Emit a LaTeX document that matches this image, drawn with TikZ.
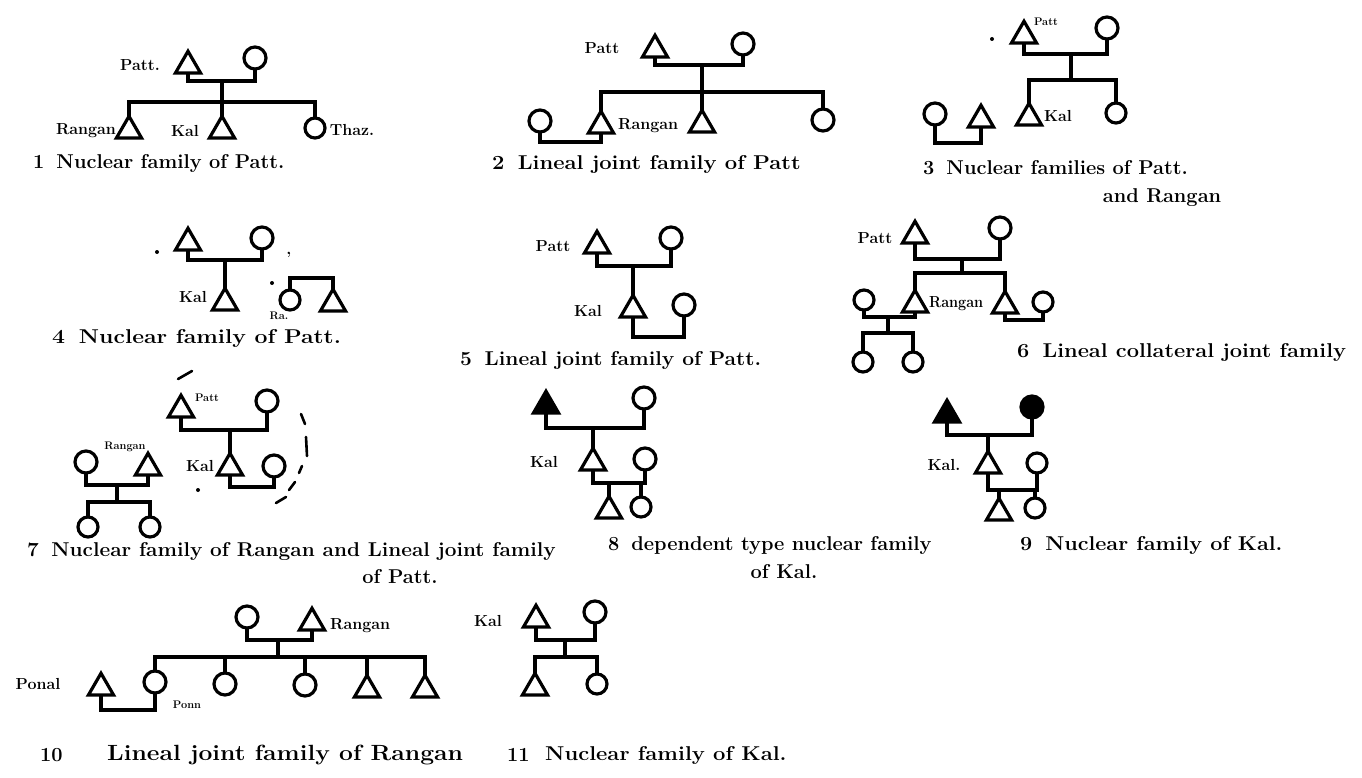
\documentclass[tikz,border=0pt]{standalone}
\usepackage{graphicx}
\usetikzlibrary{shapes.geometric}
\newcommand\hsx[2]{\scalebox{#1}[1]{#2}}
\begin{document}
\begin{tikzpicture}[x=1pt,y=-1pt,
  ln/.style={line width=3.4pt},
  tri/.style={draw, line width=3.2pt, regular polygon, regular polygon sides=3, minimum size=29pt, inner sep=0pt, outer sep=0pt, anchor=south},
  ftri/.style={tri, fill=black},
  circ/.style={draw, circle, line width=3.2pt, minimum size=22pt, inner sep=0pt, outer sep=0pt},
  scirc/.style={circ, minimum size=20pt},
  fcirc/.style={circ, fill=black},
  lab/.style={font=\fontsize{16}{18}\selectfont\bfseries, inner sep=0pt},
  slab/.style={font=\fontsize{11}{13}\selectfont\bfseries, inner sep=0pt},
  captxt/.style={font=\fontsize{20}{24}\selectfont\bfseries, inner sep=0pt, anchor=west},
  ccap/.style={font=\fontsize{20}{24}\selectfont\bfseries, inner sep=0pt},
  dsh/.style={line width=2.6pt, line cap=round}
]
\useasboundingbox (0,0) rectangle (1362,778);
\fill[white] (0,0) rectangle (1362,778);

% ---------- 1 ----------
\node[tri] (t1) at (188,73) {};
\node[circ] (c1) at (255,58) {};
\node[lab] (l1p) at (140,65) {Patt.};
\coordinate (m1) at (222,81);
\coordinate (s1) at (222,102);
\node[tri] (t1a) at (129,138) {};
\node[tri] (t1b) at (222,138) {};
\node[scirc] (c1c) at (315,128) {};
\node[lab] (l1r) at (86,131) {Rangan};
\node[lab] (l1k) at (185,131) {Kal};
\node[lab] (l1t) at (352,130) {Thaz.};
\draw[ln] (t1.south) |- (m1) -| (c1.south);
\draw[ln] (m1) -- (t1b.north);
\draw[ln] (t1a.north) |- (s1) -| (c1c.north);
\node[captxt] (cap1) at (33,164) {1\hspace{0.6em}Nuclear family of Patt.};

% ---------- 2 ----------
\node[tri] (t2) at (655,57) {};
\node[circ] (c2) at (743,44) {};
\node[lab] (l2p) at (602,48) {Patt};
\coordinate (m2) at (702,65);
\coordinate (s2) at (702,92);
\node[tri] (t2a) at (601,133) {};
\node[tri] (t2b) at (702,132) {};
\node[circ] (c2c) at (823,120) {};
\node[circ] (c2w) at (540,121) {};
\coordinate (m2w) at (570,142);
\node[lab, anchor=west] (l2r) at (618,126) {Rangan};
\draw[ln] (t2.south) |- (m2) -| (c2.south);
\draw[ln] (m2) -- (t2b.north);
\draw[ln] (t2a.north) |- (s2) -| (c2c.north);
\draw[ln] (c2w.south) |- (m2w) -| (t2a.south);
\node[captxt] (cap2) at (492,165) {\hsx{1.1}{2\hspace{0.6em}Lineal joint family of Patt}};

% ---------- 3 ----------
\node[tri] (t3) at (1024,43) {};
\node[circ] (c3) at (1107,28) {};
\node[slab] (l3p) at (1046,22) {Patt};
\fill (992,39) circle (2pt);
\coordinate (m3) at (1071,54);
\coordinate (s3) at (1071,80);
\node[tri] (t3a) at (1029,125) {};
\node[scirc] (c3a) at (1116,113) {};
\node[lab] (l3k) at (1058,116) {Kal};
\node[circ] (c3w) at (935,114) {};
\node[tri] (t3w) at (981,127) {};
\coordinate (m3w) at (958,143);
\draw[ln] (t3.south) |- (m3) -| (c3.south);
\draw[ln] (m3) -- (s3);
\draw[ln] (t3a.north) |- (s3) -| (c3a.north);
\draw[ln] (c3w.south) |- (m3w) -| (t3w.south);
\node[captxt] (cap3) at (923,168) {3\hspace{0.6em}Nuclear families of Patt.};
\node[ccap] (cap3b) at (1162,198) {and Rangan};

% ---------- 4 ----------
\node[tri] (t4) at (188,250) {};
\node[circ] (c4) at (262,238) {};
\coordinate (m4) at (225,260);
\node[tri] (t4a) at (225,310) {};
\node[lab] (l4k) at (193,297) {Kal};
\node[scirc] (c4b) at (290,300) {};
\node[tri] (t4b) at (333,311) {};
\coordinate (m4b) at (311,278);
\fill (157,252) circle (2pt);
\fill (272,283) circle (2pt);
\node[lab] (l4c) at (289,255) {,};
\node[slab] (l4r) at (279,316) {Ra.};
\draw[ln] (t4.south) |- (m4) -| (c4.south);
\draw[ln] (m4) -- (t4a.north);
\draw[ln] (c4b.north) |- (m4b) -| (t4b.north);
\node[captxt] (cap4) at (52,338) {\hsx{1.15}{4\hspace{0.6em}Nuclear family of Patt.}};

% ---------- 5 ----------
\node[tri] (t5) at (597,253) {};
\node[circ] (c5) at (671,238) {};
\node[lab] (l5p) at (553,246) {Patt};
\coordinate (m5) at (633,266);
\node[tri] (t5a) at (633,317) {};
\node[circ] (c5a) at (684,305) {};
\node[lab] (l5k) at (588,311) {Kal};
\coordinate (m5a) at (659,337);
\draw[ln] (t5.south) |- (m5) -| (c5.south);
\draw[ln] (m5) -- (t5a.north);
\draw[ln] (t5a.south) |- (m5a) -| (c5a.south);
\node[captxt] (cap5) at (460,360) {\hsx{1.05}{5\hspace{0.6em}Lineal joint family of Patt.}};

% ---------- 6 ----------
\node[tri] (t6) at (915,243) {};
\node[circ] (c6) at (1000,228) {};
\node[lab] (l6p) at (875,238) {Patt};
\coordinate (m6) at (962,259);
\coordinate (s6) at (962,273);
\node[tri] (t6a) at (915,312) {};
\node[tri] (t6b) at (1005,313) {};
\node[lab, anchor=west] (l6r) at (929,304) {\hsx{0.9}{Rangan}};
\node[scirc] (c6b) at (1043,302) {};
\coordinate (m6b) at (1024,320);
\node[scirc] (c6w) at (864,300) {};
\coordinate (m6w) at (888,317);
\coordinate (s6w) at (888,333);
\node[scirc] (c6c) at (863,362) {};
\node[scirc] (c6d) at (913,362) {};
\draw[ln] (t6.south) |- (m6) -| (c6.south);
\draw[ln] (m6) -- (s6);
\draw[ln] (t6a.north) |- (s6) -| (t6b.north);
\draw[ln] (t6b.south) |- (m6b) -| (c6b.south);
\draw[ln] (c6w.south) |- (m6w) -| (t6a.south);
\draw[ln] (m6w) -- (s6w);
\draw[ln] (c6c.north) |- (s6w) -| (c6d.north);
\node[captxt] (cap6) at (1017,352) {\hsx{1.09}{6\hspace{0.6em}Lineal collateral joint family}};

% ---------- 7 ----------
\node[tri] (t7) at (181,417) {};
\node[circ] (c7) at (267,401) {};
\node[slab] (l7p) at (207,398) {Patt};
\coordinate (m7) at (230,430);
\node[tri] (t7a) at (230,475) {};
\node[circ] (c7a) at (274,466) {};
\node[lab] (l7k) at (200,466) {Kal};
\coordinate (m7a) at (252,487);
\node[circ] (c7w) at (86,462) {};
\node[tri] (t7w) at (148,475) {};
\node[slab] (l7r) at (125,447) {Rangan};
\coordinate (m7w) at (117,485);
\coordinate (s7w) at (117,502);
\node[scirc] (c7c) at (88,527) {};
\node[scirc] (c7d) at (150,527) {};
\draw[ln] (t7.south) |- (m7) -| (c7.south);
\draw[ln] (m7) -- (t7a.north);
\draw[ln] (t7a.south) |- (m7a) -| (c7a.south);
\draw[ln] (c7w.south) |- (m7w) -| (t7w.south);
\draw[ln] (m7w) -- (s7w);
\draw[ln] (c7c.north) |- (s7w) -| (c7d.north);
\draw[dsh] (178,379) -- (192,371);
\draw[dsh] (301,414) -- (305,424);
\draw[dsh] (306,437) -- (307,456);
\draw[dsh] (302,466) -- (299,473);
\draw[dsh] (295,482) -- (289,490);
\draw[dsh] (286,497) -- (276,503);
\fill (198,490) circle (2pt);
\node[captxt] (cap7) at (27,552) {\hsx{1.04}{7\hspace{0.6em}Nuclear family of Rangan and Lineal joint family}};
\node[ccap] (cap7b) at (400,577) {of Patt.};

% ---------- 8 ----------
\node[ftri] (t8) at (546,413) {};
\node[circ] (c8) at (644,398) {};
\coordinate (m8) at (593,428);
\node[tri] (t8a) at (593,470) {};
\node[circ] (c8a) at (645,459) {};
\node[lab] (l8k) at (544,462) {Kal};
\coordinate (m8a) at (620,483);
\node[tri] (t8b) at (609,518) {};
\node[scirc] (c8b) at (641,507) {};
\draw[ln] (t8.south) |- (m8) -| (c8.south);
\draw[ln] (m8) -- (t8a.north);
\draw[ln] (t8a.south) |- (m8a) -| (c8a.south);
\draw[ln] (m8a -| t8b.north) -- (t8b.north);
\draw[ln] (m8a -| c8b.north) -- (c8b.north);
\node[captxt] (cap8) at (608,545) {8\hspace{0.6em}dependent type nuclear family};
\node[ccap] (cap8b) at (784,572) {of Kal.};

% ---------- 9 ----------
\node[ftri] (t9) at (947,422) {};
\node[fcirc] (c9) at (1032,407) {};
\coordinate (m9) at (988,435);
\node[tri] (t9a) at (988,473) {};
\node[scirc] (c9a) at (1037,463) {};
\node[lab] (l9k) at (944,465) {Kal.};
\coordinate (m9a) at (1012,490);
\node[tri] (t9b) at (999,520) {};
\node[scirc] (c9b) at (1035,508) {};
\draw[ln] (t9.south) |- (m9) -| (c9.south);
\draw[ln] (m9) -- (t9a.north);
\draw[ln] (t9a.south) |- (m9a) -| (c9a.south);
\draw[ln] (m9a -| t9b.north) -- (t9b.north);
\draw[ln] (m9a -| c9b.north) -- (c9b.north);
\node[captxt] (cap9) at (1020,545) {\hsx{1.08}{9\hspace{0.6em}Nuclear family of Kal.}};

% ---------- 10 ----------
\node[circ] (c10w) at (247,617) {};
\node[tri] (t10r) at (312,630) {};
\node[lab, anchor=west] (l10r) at (330,626) {Rangan};
\coordinate (m10) at (278,640);
\coordinate (s10) at (278,657);
\node[circ] (c10a) at (155,682) {};
\node[circ] (c10b) at (225,684) {};
\node[circ] (c10c) at (305,685) {};
\node[tri] (t10d) at (367,697) {};
\node[tri] (t10e) at (425,697) {};
\node[tri] (t10p) at (101,695) {};
\node[lab] (l10p) at (38,684) {Ponal};
\node[slab] (l10n) at (187,705) {Ponn};
\coordinate (m10p) at (128,710);
\draw[ln] (c10w.south) |- (m10) -| (t10r.south);
\draw[ln] (m10) -- (s10);
\draw[ln] (c10a.north) |- (s10) -| (t10e.north);
\draw[ln] (s10 -| c10b.north) -- (c10b.north);
\draw[ln] (s10 -| c10c.north) -- (c10c.north);
\draw[ln] (s10 -| t10d.north) -- (t10d.north);
\draw[ln] (t10p.south) |- (m10p) -| (c10a.south);
\node[captxt] (cap10n) at (40,755) {10};
\node[captxt] (cap10) at (107,755) {\hsx{1.12}{\fontsize{22}{26}\selectfont Lineal joint family of Rangan}};

% ---------- 11 ----------
\node[tri] (t11) at (536,627) {};
\node[circ] (c11) at (595,612) {};
\node[lab] (l11k) at (488,621) {Kal};
\coordinate (m11) at (565,640);
\coordinate (s11) at (565,657);
\node[tri] (t11a) at (535,695) {};
\node[scirc] (c11a) at (597,684) {};
\draw[ln] (t11.south) |- (m11) -| (c11.south);
\draw[ln] (m11) -- (s11);
\draw[ln] (t11a.north) |- (s11) -| (c11a.north);
\node[captxt] (cap11n) at (507,755) {11};
\node[captxt] (cap11) at (545,755) {\hsx{1.1}{Nuclear family of Kal.}};
\end{tikzpicture}
\end{document}
